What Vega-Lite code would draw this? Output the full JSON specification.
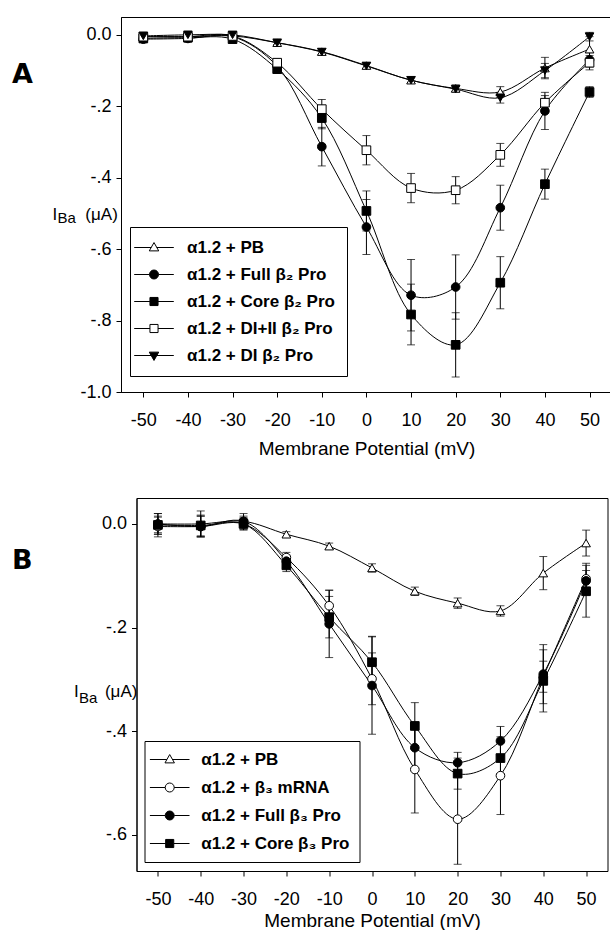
{
  "$schema": "https://vega.github.io/schema/vega-lite/v6.json",
  "padding": {"left": 11, "top": 16, "right": 0, "bottom": 0},
  "spacing": 106,
  "bounds": "flush",
  "center": true,
  "background": "white",
  "config": {
    "font": "Liberation Sans",
    "view": {"stroke": "black", "strokeWidth": 1},
    "axis": {"grid": false, "domainColor": "black", "tickColor": "black", "labelColor": "black", "titleColor": "black", "labelFont": "Liberation Sans", "titleFont": "Liberation Sans", "labelFontSize": 18, "titleFontSize": 19, "titleFontWeight": "normal", "tickSize": 5, "tickWidth": 1, "domainWidth": 1, "labelOverlap": false, "labelFlush": false}
  },
  "datasets": {
    "A": [
      {"series": "α1.2 + PB", "mv": -50, "i": -0.005, "sem": 0.01},
      {"series": "α1.2 + PB", "mv": -40, "i": -0.005, "sem": 0.01},
      {"series": "α1.2 + PB", "mv": -30, "i": -0.003, "sem": 0.008},
      {"series": "α1.2 + PB", "mv": -20, "i": -0.022, "sem": 0.006},
      {"series": "α1.2 + PB", "mv": -10, "i": -0.047, "sem": 0.008},
      {"series": "α1.2 + PB", "mv": 0, "i": -0.086, "sem": 0.008},
      {"series": "α1.2 + PB", "mv": 10, "i": -0.127, "sem": 0.008},
      {"series": "α1.2 + PB", "mv": 20, "i": -0.15, "sem": 0.01},
      {"series": "α1.2 + PB", "mv": 30, "i": -0.16, "sem": 0.015},
      {"series": "α1.2 + PB", "mv": 40, "i": -0.093, "sem": 0.03},
      {"series": "α1.2 + PB", "mv": 50, "i": -0.04, "sem": 0.035},
      {"series": "α1.2 + Full β₂ Pro", "mv": -50, "i": -0.012, "sem": 0.01},
      {"series": "α1.2 + Full β₂ Pro", "mv": -40, "i": -0.01, "sem": 0.01},
      {"series": "α1.2 + Full β₂ Pro", "mv": -30, "i": -0.005, "sem": 0.01},
      {"series": "α1.2 + Full β₂ Pro", "mv": -20, "i": -0.088, "sem": 0.012},
      {"series": "α1.2 + Full β₂ Pro", "mv": -10, "i": -0.313, "sem": 0.054},
      {"series": "α1.2 + Full β₂ Pro", "mv": 0, "i": -0.538, "sem": 0.077},
      {"series": "α1.2 + Full β₂ Pro", "mv": 10, "i": -0.729, "sem": 0.1},
      {"series": "α1.2 + Full β₂ Pro", "mv": 20, "i": -0.706, "sem": 0.09},
      {"series": "α1.2 + Full β₂ Pro", "mv": 30, "i": -0.484, "sem": 0.063},
      {"series": "α1.2 + Full β₂ Pro", "mv": 40, "i": -0.213, "sem": 0.052},
      {"series": "α1.2 + Full β₂ Pro", "mv": 50, "i": -0.07, "sem": 0.02},
      {"series": "α1.2 + Core β₂ Pro", "mv": -50, "i": -0.01, "sem": 0.008},
      {"series": "α1.2 + Core β₂ Pro", "mv": -40, "i": -0.008, "sem": 0.008},
      {"series": "α1.2 + Core β₂ Pro", "mv": -30, "i": -0.012, "sem": 0.008},
      {"series": "α1.2 + Core β₂ Pro", "mv": -20, "i": -0.096, "sem": 0.01},
      {"series": "α1.2 + Core β₂ Pro", "mv": -10, "i": -0.233, "sem": 0.03},
      {"series": "α1.2 + Core β₂ Pro", "mv": 0, "i": -0.493, "sem": 0.056},
      {"series": "α1.2 + Core β₂ Pro", "mv": 10, "i": -0.783, "sem": 0.085},
      {"series": "α1.2 + Core β₂ Pro", "mv": 20, "i": -0.868, "sem": 0.09},
      {"series": "α1.2 + Core β₂ Pro", "mv": 30, "i": -0.694, "sem": 0.073},
      {"series": "α1.2 + Core β₂ Pro", "mv": 40, "i": -0.418, "sem": 0.042},
      {"series": "α1.2 + Core β₂ Pro", "mv": 50, "i": -0.16, "sem": 0.015},
      {"series": "α1.2 + DI+II β₂ Pro", "mv": -50, "i": -0.005, "sem": 0.008},
      {"series": "α1.2 + DI+II β₂ Pro", "mv": -40, "i": -0.005, "sem": 0.008},
      {"series": "α1.2 + DI+II β₂ Pro", "mv": -30, "i": -0.003, "sem": 0.008},
      {"series": "α1.2 + DI+II β₂ Pro", "mv": -20, "i": -0.078, "sem": 0.01},
      {"series": "α1.2 + DI+II β₂ Pro", "mv": -10, "i": -0.208, "sem": 0.027},
      {"series": "α1.2 + DI+II β₂ Pro", "mv": 0, "i": -0.323, "sem": 0.041},
      {"series": "α1.2 + DI+II β₂ Pro", "mv": 10, "i": -0.429, "sem": 0.041},
      {"series": "α1.2 + DI+II β₂ Pro", "mv": 20, "i": -0.435, "sem": 0.038},
      {"series": "α1.2 + DI+II β₂ Pro", "mv": 30, "i": -0.336, "sem": 0.032},
      {"series": "α1.2 + DI+II β₂ Pro", "mv": 40, "i": -0.19, "sem": 0.02},
      {"series": "α1.2 + DI+II β₂ Pro", "mv": 50, "i": -0.078, "sem": 0.02},
      {"series": "α1.2 + DI β₂ Pro", "mv": -50, "i": -0.003, "sem": 0.01},
      {"series": "α1.2 + DI β₂ Pro", "mv": -40, "i": 0.0, "sem": 0.01},
      {"series": "α1.2 + DI β₂ Pro", "mv": -30, "i": 0.0, "sem": 0.008},
      {"series": "α1.2 + DI β₂ Pro", "mv": -20, "i": -0.022, "sem": 0.006},
      {"series": "α1.2 + DI β₂ Pro", "mv": -10, "i": -0.048, "sem": 0.008},
      {"series": "α1.2 + DI β₂ Pro", "mv": 0, "i": -0.087, "sem": 0.008},
      {"series": "α1.2 + DI β₂ Pro", "mv": 10, "i": -0.127, "sem": 0.008},
      {"series": "α1.2 + DI β₂ Pro", "mv": 20, "i": -0.152, "sem": 0.008},
      {"series": "α1.2 + DI β₂ Pro", "mv": 30, "i": -0.176, "sem": 0.015},
      {"series": "α1.2 + DI β₂ Pro", "mv": 40, "i": -0.1, "sem": 0.02},
      {"series": "α1.2 + DI β₂ Pro", "mv": 50, "i": -0.005, "sem": 0.012}
    ],
    "B": [
      {"series": "α1.2 + PB", "mv": -50, "i": 0.0, "sem": 0.02},
      {"series": "α1.2 + PB", "mv": -40, "i": 0.0, "sem": 0.025},
      {"series": "α1.2 + PB", "mv": -30, "i": 0.005, "sem": 0.015},
      {"series": "α1.2 + PB", "mv": -20, "i": -0.02, "sem": 0.005},
      {"series": "α1.2 + PB", "mv": -10, "i": -0.043, "sem": 0.006},
      {"series": "α1.2 + PB", "mv": 0, "i": -0.085, "sem": 0.008},
      {"series": "α1.2 + PB", "mv": 10, "i": -0.13, "sem": 0.008},
      {"series": "α1.2 + PB", "mv": 20, "i": -0.153, "sem": 0.01},
      {"series": "α1.2 + PB", "mv": 30, "i": -0.168, "sem": 0.01},
      {"series": "α1.2 + PB", "mv": 40, "i": -0.095, "sem": 0.032},
      {"series": "α1.2 + PB", "mv": 50, "i": -0.037, "sem": 0.025},
      {"series": "α1.2 + β₃ mRNA", "mv": -50, "i": -0.005, "sem": 0.02},
      {"series": "α1.2 + β₃ mRNA", "mv": -40, "i": -0.005, "sem": 0.02},
      {"series": "α1.2 + β₃ mRNA", "mv": -30, "i": 0.0, "sem": 0.012},
      {"series": "α1.2 + β₃ mRNA", "mv": -20, "i": -0.065, "sem": 0.01},
      {"series": "α1.2 + β₃ mRNA", "mv": -10, "i": -0.158, "sem": 0.03},
      {"series": "α1.2 + β₃ mRNA", "mv": 0, "i": -0.299, "sem": 0.05},
      {"series": "α1.2 + β₃ mRNA", "mv": 10, "i": -0.474, "sem": 0.084},
      {"series": "α1.2 + β₃ mRNA", "mv": 20, "i": -0.57, "sem": 0.087},
      {"series": "α1.2 + β₃ mRNA", "mv": 30, "i": -0.486, "sem": 0.075},
      {"series": "α1.2 + β₃ mRNA", "mv": 40, "i": -0.295, "sem": 0.03},
      {"series": "α1.2 + β₃ mRNA", "mv": 50, "i": -0.106, "sem": 0.03},
      {"series": "α1.2 + Full β₃ Pro", "mv": -50, "i": 0.0, "sem": 0.02},
      {"series": "α1.2 + Full β₃ Pro", "mv": -40, "i": -0.005, "sem": 0.02},
      {"series": "α1.2 + Full β₃ Pro", "mv": -30, "i": 0.005, "sem": 0.01},
      {"series": "α1.2 + Full β₃ Pro", "mv": -20, "i": -0.072, "sem": 0.012},
      {"series": "α1.2 + Full β₃ Pro", "mv": -10, "i": -0.193, "sem": 0.065},
      {"series": "α1.2 + Full β₃ Pro", "mv": 0, "i": -0.312, "sem": 0.094},
      {"series": "α1.2 + Full β₃ Pro", "mv": 10, "i": -0.432, "sem": 0.04},
      {"series": "α1.2 + Full β₃ Pro", "mv": 20, "i": -0.461, "sem": 0.02},
      {"series": "α1.2 + Full β₃ Pro", "mv": 30, "i": -0.419, "sem": 0.028},
      {"series": "α1.2 + Full β₃ Pro", "mv": 40, "i": -0.29, "sem": 0.057},
      {"series": "α1.2 + Full β₃ Pro", "mv": 50, "i": -0.11, "sem": 0.02},
      {"series": "α1.2 + Core β₃ Pro", "mv": -50, "i": -0.002, "sem": 0.015},
      {"series": "α1.2 + Core β₃ Pro", "mv": -40, "i": -0.003, "sem": 0.02},
      {"series": "α1.2 + Core β₃ Pro", "mv": -30, "i": 0.0, "sem": 0.01},
      {"series": "α1.2 + Core β₃ Pro", "mv": -20, "i": -0.08, "sem": 0.012},
      {"series": "α1.2 + Core β₃ Pro", "mv": -10, "i": -0.18, "sem": 0.04},
      {"series": "α1.2 + Core β₃ Pro", "mv": 0, "i": -0.267, "sem": 0.05},
      {"series": "α1.2 + Core β₃ Pro", "mv": 10, "i": -0.39, "sem": 0.045},
      {"series": "α1.2 + Core β₃ Pro", "mv": 20, "i": -0.482, "sem": 0.03},
      {"series": "α1.2 + Core β₃ Pro", "mv": 30, "i": -0.452, "sem": 0.03},
      {"series": "α1.2 + Core β₃ Pro", "mv": 40, "i": -0.303, "sem": 0.06},
      {"series": "α1.2 + Core β₃ Pro", "mv": 50, "i": -0.13, "sem": 0.05}
    ]
  },
  "vconcat": [
    {
      "width": 502,
      "height": 375,
      "title": {"text": "A", "anchor": "start", "orient": "top", "frame": "bounds", "font": "DejaVu Sans", "fontSize": 27, "fontWeight": "bold", "color": "black", "offset": 0, "baseline": "top", "dx": -40, "dy": 72},
      "data": {"name": "A"},
      "layer": [
        {
          "mark": {"type": "errorbar", "ticks": {"size": 8, "color": "black", "strokeWidth": 1}, "rule": {"color": "black", "strokeWidth": 1}},
          "encoding": {
            "x": {"field": "mv", "type": "quantitative", "scale": {"domain": [-55, 57.5], "nice": false, "zero": false}, "axis": null},
            "y": {"field": "i", "type": "quantitative", "scale": {"domain": [-1.0, 0.05], "nice": false, "zero": false}, "axis": null},
            "yError": {"field": "sem"}
          }
        },
        {
          "mark": {"type": "line", "interpolate": "catmull-rom", "color": "black", "strokeWidth": 1},
          "encoding": {
            "x": {"field": "mv", "type": "quantitative", "scale": {"domain": [-55, 57.5], "nice": false, "zero": false},
              "axis": {"values": [-50, -40, -30, -20, -10, 0, 10, 20, 30, 40, 50], "labelExpr": "datum.value + ''", "labelPadding": 14, "title": "Membrane Potential (mV)", "titlePadding": 10, "titleX": 245.5}},
            "y": {"field": "i", "type": "quantitative", "scale": {"domain": [-1.0, 0.05], "nice": false, "zero": false},
              "axis": {"values": [0, -0.2, -0.4, -0.6, -0.8, -1.0], "labelExpr": "datum.value == 0 ? '0.0' : (datum.value < -0.99 ? '-1.0' : '-.' + round(-datum.value * 10))", "labelPadding": 5, "title": "I", "titleAngle": 0, "titleAlign": "left", "titleBaseline": "alphabetic", "titleX": -69, "titleY": 202, "titleFontSize": 17}},
            "detail": {"field": "series"}
          }
        },
        {
          "mark": {"type": "point", "filled": true, "strokeWidth": 1, "size": 75, "opacity": 1},
          "encoding": {
            "x": {"field": "mv", "type": "quantitative", "scale": {"domain": [-55, 57.5], "nice": false, "zero": false}, "axis": null},
            "y": {"field": "i", "type": "quantitative", "scale": {"domain": [-1.0, 0.05], "nice": false, "zero": false}, "axis": null},
            "shape": {"field": "series", "type": "nominal", "scale": {"domain": ["α1.2 + PB", "α1.2 + Full β₂ Pro", "α1.2 + Core β₂ Pro", "α1.2 + DI+II β₂ Pro", "α1.2 + DI β₂ Pro"], "range": ["triangle-up", "circle", "square", "square", "triangle-down"]}, "legend": null},
            "fill": {"field": "series", "type": "nominal", "scale": {"domain": ["α1.2 + PB", "α1.2 + Full β₂ Pro", "α1.2 + Core β₂ Pro", "α1.2 + DI+II β₂ Pro", "α1.2 + DI β₂ Pro"], "range": ["white", "black", "black", "white", "black"]}, "legend": null},
            "stroke": {"field": "series", "type": "nominal", "scale": {"domain": ["α1.2 + PB", "α1.2 + Full β₂ Pro", "α1.2 + Core β₂ Pro", "α1.2 + DI+II β₂ Pro", "α1.2 + DI β₂ Pro"], "range": ["black", "black", "black", "black", "black"]}, "legend": null}
          }
        },
        {
          "data": {"values": []},
          "mark": {"type": "point", "filled": true, "strokeWidth": 1, "opacity": 1},
          "encoding": {
            "x": {"field": "mv", "type": "quantitative", "scale": {"domain": [-55, 57.5], "nice": false, "zero": false},
              "axis": {"orient": "top", "domain": false, "ticks": false, "labels": false, "title": "Ba", "titleX": -64, "titleY": 205, "titleAngle": 0, "titleAlign": "left", "titleBaseline": "alphabetic", "titleFontSize": 15}},
            "y": {"field": "i", "type": "quantitative", "scale": {"domain": [-1.0, 0.05], "nice": false, "zero": false},
              "axis": {"orient": "right", "domain": false, "ticks": false, "labels": false, "title": "(μA)", "titleX": -505.7, "titleY": 202, "titleAngle": 0, "titleAlign": "right", "titleBaseline": "alphabetic", "titleFontSize": 17}},
            "shape": {"field": "series", "type": "nominal", "scale": {"domain": ["α1.2 + PB", "α1.2 + Full β₂ Pro", "α1.2 + Core β₂ Pro", "α1.2 + DI+II β₂ Pro", "α1.2 + DI β₂ Pro"], "range": ["M-4.4,0H-0.62M0.62,0H4.4M0,-1.1L1.05,0.75L-1.05,0.75Z", "M-4.4,0H-1M1,0H4.4M-1,0A1,1,0,1,0,1,0A1,1,0,1,0,-1,0Z", "M-4.4,0H-0.9M0.9,0H4.4M-0.9,-0.9H0.9V0.9H-0.9Z", "M-4.4,0H-0.9M0.9,0H4.4M-0.9,-0.9H0.9V0.9H-0.9Z", "M-4.4,0H-0.62M0.62,0H4.4M0,1.1L1.05,-0.75L-1.05,-0.75Z"]},
              "legend": {"title": null, "orient": "none", "legendX": 9, "legendY": 210, "direction": "vertical", "strokeColor": "black", "fillColor": "white", "padding": 12, "labelFont": "Liberation Sans", "labelFontSize": 17, "labelFontWeight": "bold", "labelColor": "black", "labelLimit": 400, "symbolSize": 81, "symbolStrokeWidth": 1, "symbolOffset": 3.5, "labelOffset": 24.5, "rowPadding": 9}},
            "fill": {"field": "series", "type": "nominal", "scale": {"domain": ["α1.2 + PB", "α1.2 + Full β₂ Pro", "α1.2 + Core β₂ Pro", "α1.2 + DI+II β₂ Pro", "α1.2 + DI β₂ Pro"], "range": ["white", "black", "black", "white", "black"]},
              "legend": {"title": null, "orient": "none", "legendX": 9, "legendY": 210, "direction": "vertical", "strokeColor": "black", "fillColor": "white", "padding": 12, "labelFont": "Liberation Sans", "labelFontSize": 17, "labelFontWeight": "bold", "labelColor": "black", "labelLimit": 400, "symbolSize": 81, "symbolStrokeWidth": 1, "symbolOffset": 3.5, "labelOffset": 24.5, "rowPadding": 9}},
            "stroke": {"field": "series", "type": "nominal", "scale": {"domain": ["α1.2 + PB", "α1.2 + Full β₂ Pro", "α1.2 + Core β₂ Pro", "α1.2 + DI+II β₂ Pro", "α1.2 + DI β₂ Pro"], "range": ["black", "black", "black", "black", "black"]},
              "legend": {"title": null, "orient": "none", "legendX": 9, "legendY": 210, "direction": "vertical", "strokeColor": "black", "fillColor": "white", "padding": 12, "labelFont": "Liberation Sans", "labelFontSize": 17, "labelFontWeight": "bold", "labelColor": "black", "labelLimit": 400, "symbolSize": 81, "symbolStrokeWidth": 1, "symbolOffset": 3.5, "labelOffset": 24.5, "rowPadding": 9}}
          }
        }
      ],
      "resolve": {"scale": {"shape": "independent", "fill": "independent", "stroke": "independent"}, "axis": {"x": "independent", "y": "independent"}}
    },
    {
      "width": 471,
      "height": 373,
      "title": {"text": "B", "anchor": "start", "orient": "top", "frame": "bounds", "font": "DejaVu Sans", "fontSize": 27, "fontWeight": "bold", "color": "black", "offset": 0, "baseline": "top", "dx": -61.6, "dy": 77},
      "data": {"name": "B"},
      "layer": [
        {
          "mark": {"type": "errorbar", "ticks": {"size": 8, "color": "black", "strokeWidth": 1}, "rule": {"color": "black", "strokeWidth": 1}},
          "encoding": {
            "x": {"field": "mv", "type": "quantitative", "scale": {"domain": [-55, 55], "nice": false, "zero": false}, "axis": null},
            "y": {"field": "i", "type": "quantitative", "scale": {"domain": [-0.67, 0.05], "nice": false, "zero": false}, "axis": null},
            "yError": {"field": "sem"}
          }
        },
        {
          "mark": {"type": "line", "interpolate": "catmull-rom", "color": "black", "strokeWidth": 1},
          "encoding": {
            "x": {"field": "mv", "type": "quantitative", "scale": {"domain": [-55, 55], "nice": false, "zero": false},
              "axis": {"values": [-50, -40, -30, -20, -10, 0, 10, 20, 30, 40, 50], "labelExpr": "datum.value + ''", "labelPadding": 14, "title": "Membrane Potential (mV)", "titlePadding": 3}},
            "y": {"field": "i", "type": "quantitative", "scale": {"domain": [-0.67, 0.05], "nice": false, "zero": false},
              "axis": {"values": [0, -0.2, -0.4, -0.6], "labelExpr": "datum.value == 0 ? '0.0' : '-.' + round(-datum.value * 10)", "labelPadding": 5, "title": "I", "titleAngle": 0, "titleAlign": "left", "titleBaseline": "alphabetic", "titleX": -63, "titleY": 198, "titleFontSize": 17}},
            "detail": {"field": "series"}
          }
        },
        {
          "mark": {"type": "point", "filled": true, "strokeWidth": 1, "size": 75, "opacity": 1},
          "encoding": {
            "x": {"field": "mv", "type": "quantitative", "scale": {"domain": [-55, 55], "nice": false, "zero": false}, "axis": null},
            "y": {"field": "i", "type": "quantitative", "scale": {"domain": [-0.67, 0.05], "nice": false, "zero": false}, "axis": null},
            "shape": {"field": "series", "type": "nominal", "scale": {"domain": ["α1.2 + PB", "α1.2 + β₃ mRNA", "α1.2 + Full β₃ Pro", "α1.2 + Core β₃ Pro"], "range": ["triangle-up", "circle", "circle", "square"]}, "legend": null},
            "fill": {"field": "series", "type": "nominal", "scale": {"domain": ["α1.2 + PB", "α1.2 + β₃ mRNA", "α1.2 + Full β₃ Pro", "α1.2 + Core β₃ Pro"], "range": ["white", "white", "black", "black"]}, "legend": null},
            "stroke": {"field": "series", "type": "nominal", "scale": {"domain": ["α1.2 + PB", "α1.2 + β₃ mRNA", "α1.2 + Full β₃ Pro", "α1.2 + Core β₃ Pro"], "range": ["black", "black", "black", "black"]}, "legend": null}
          }
        },
        {
          "data": {"values": []},
          "mark": {"type": "point", "filled": true, "strokeWidth": 1, "opacity": 1},
          "encoding": {
            "x": {"field": "mv", "type": "quantitative", "scale": {"domain": [-55, 55], "nice": false, "zero": false},
              "axis": {"orient": "top", "domain": false, "ticks": false, "labels": false, "title": "Ba", "titleX": -58, "titleY": 204, "titleAngle": 0, "titleAlign": "left", "titleBaseline": "alphabetic", "titleFontSize": 15}},
            "y": {"field": "i", "type": "quantitative", "scale": {"domain": [-0.67, 0.05], "nice": false, "zero": false},
              "axis": {"orient": "right", "domain": false, "ticks": false, "labels": false, "title": "(μA)", "titleX": -470.6, "titleY": 198, "titleAngle": 0, "titleAlign": "right", "titleBaseline": "alphabetic", "titleFontSize": 17}},
            "shape": {"field": "series", "type": "nominal", "scale": {"domain": ["α1.2 + PB", "α1.2 + β₃ mRNA", "α1.2 + Full β₃ Pro", "α1.2 + Core β₃ Pro"], "range": ["M-4.4,0H-0.62M0.62,0H4.4M0,-1.1L1.05,0.75L-1.05,0.75Z", "M-4.4,0H-1M1,0H4.4M-1,0A1,1,0,1,0,1,0A1,1,0,1,0,-1,0Z", "M-4.4,0H-1M1,0H4.4M-1,0A1,1,0,1,0,1,0A1,1,0,1,0,-1,0Z", "M-4.4,0H-0.9M0.9,0H4.4M-0.9,-0.9H0.9V0.9H-0.9Z"]},
              "legend": {"title": null, "orient": "none", "legendX": 8, "legendY": 243, "direction": "vertical", "strokeColor": "black", "fillColor": "white", "padding": 10, "labelFont": "Liberation Sans", "labelFontSize": 17, "labelFontWeight": "bold", "labelColor": "black", "labelLimit": 400, "symbolSize": 81, "symbolStrokeWidth": 1, "symbolOffset": 6.7, "labelOffset": 23, "rowPadding": 10}},
            "fill": {"field": "series", "type": "nominal", "scale": {"domain": ["α1.2 + PB", "α1.2 + β₃ mRNA", "α1.2 + Full β₃ Pro", "α1.2 + Core β₃ Pro"], "range": ["white", "white", "black", "black"]},
              "legend": {"title": null, "orient": "none", "legendX": 8, "legendY": 243, "direction": "vertical", "strokeColor": "black", "fillColor": "white", "padding": 10, "labelFont": "Liberation Sans", "labelFontSize": 17, "labelFontWeight": "bold", "labelColor": "black", "labelLimit": 400, "symbolSize": 81, "symbolStrokeWidth": 1, "symbolOffset": 6.7, "labelOffset": 23, "rowPadding": 10}},
            "stroke": {"field": "series", "type": "nominal", "scale": {"domain": ["α1.2 + PB", "α1.2 + β₃ mRNA", "α1.2 + Full β₃ Pro", "α1.2 + Core β₃ Pro"], "range": ["black", "black", "black", "black"]},
              "legend": {"title": null, "orient": "none", "legendX": 8, "legendY": 243, "direction": "vertical", "strokeColor": "black", "fillColor": "white", "padding": 10, "labelFont": "Liberation Sans", "labelFontSize": 17, "labelFontWeight": "bold", "labelColor": "black", "labelLimit": 400, "symbolSize": 81, "symbolStrokeWidth": 1, "symbolOffset": 6.7, "labelOffset": 23, "rowPadding": 10}}
          }
        }
      ],
      "resolve": {"scale": {"shape": "independent", "fill": "independent", "stroke": "independent"}, "axis": {"x": "independent", "y": "independent"}}
    }
  ]
}
